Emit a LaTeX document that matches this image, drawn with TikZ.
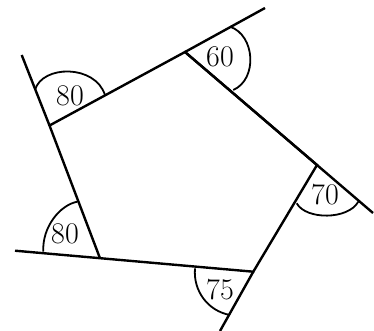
\documentclass[tikz,border=0pt]{standalone}
\begin{document}
\begin{tikzpicture}[x=1pt, y=1pt]
\tikzset{side/.style={line width=2.4pt}, angarc/.style={line width=1.8pt}, deg/.style={font=\fontsize{30}{32}\selectfont}}
\useasboundingbox (0,0) rectangle (374,331);
% corners of the pentagon
\coordinate (A) at (49.5,205.5);
\coordinate (B) at (185,279);
\coordinate (C) at (317,166);
\coordinate (D) at (253.3,59.3);
\coordinate (E) at (100,72.7);
% far ends of the extended sides
\coordinate (a) at (21.7,276);
\coordinate (b) at (265,323);
\coordinate (c) at (373,118);
\coordinate (d) at (220,0);
\coordinate (e) at (15,80.3);
\draw[side] (e) -- (D) -- (C) -- (B);
\draw[side] (d) -- (D);
\draw[side] (c) -- (B) -- (A) -- (E);
\draw[side] (b) -- (B);
\draw[side] (a) -- (A);
% angle arcs
\draw[angarc] (35,241) .. controls (42,266) and (95,267) .. (105,236);
\draw[angarc] (230,304.3) .. controls (255,296) and (258,252) .. (233.3,241);
\draw[angarc] (296.7,127.7) .. controls (306,111) and (348,111) .. (358.3,129.3);
\draw[angarc] (195,62.7) .. controls (193,40) and (208,20) .. (230,16);
\draw[angarc] (43.3,79.3) .. controls (42,104) and (60,126) .. (77.3,129.3);
% labels
\node[deg] (angA) at (70,235) {80};
\node[deg] (angB) at (220,274.3) {60};
\node[deg] (angC) at (325,136) {70};
\node[deg] (angD) at (220,41) {75};
\node[deg] (angE) at (65,96.7) {80};
\end{tikzpicture}
\end{document}
